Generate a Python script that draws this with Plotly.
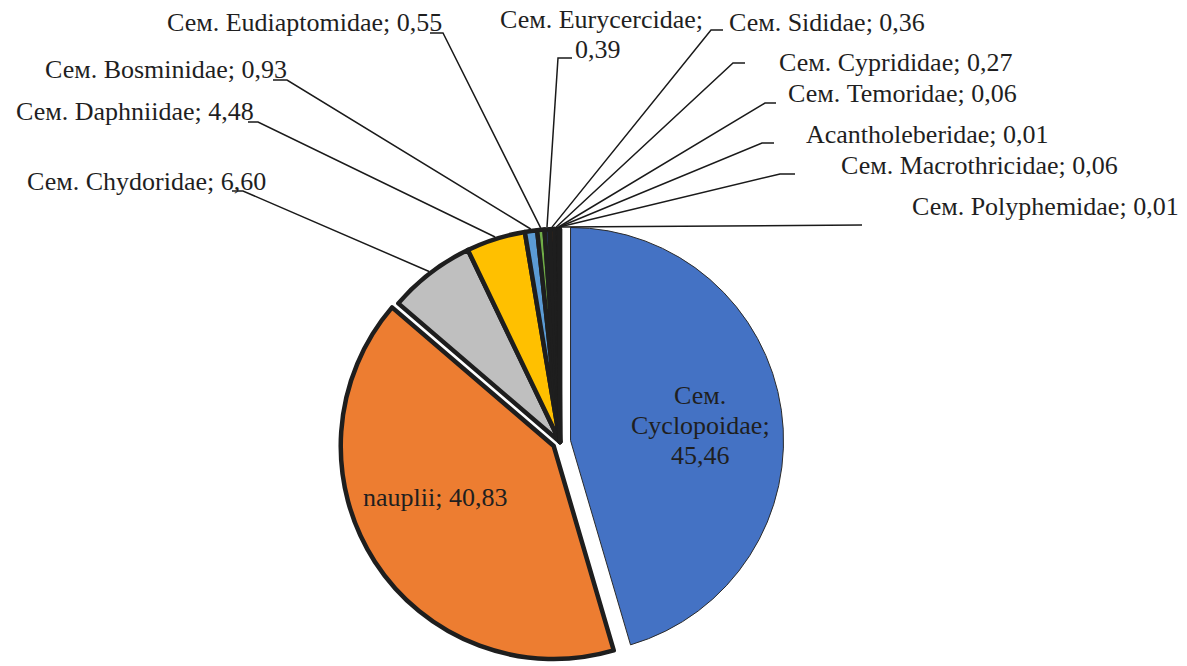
import math
import plotly.graph_objects as go

# ---------------- data ----------------
categories = ["Сем. Cyclopoidae", "nauplii", "Сем. Chydoridae", "Сем. Daphniidae",
              "Сем. Bosminidae", "Сем. Eudiaptomidae", "Сем. Eurycercidae",
              "Сем. Sididae", "Сем. Cyprididae", "Сем. Temoridae",
              "Acantholeberidae", "Сем. Macrothricidae", "Сем. Polyphemidae"]
values = [45.46, 40.83, 6.60, 4.48, 0.93, 0.55, 0.39, 0.36, 0.27, 0.06, 0.01, 0.06, 0.01]

# ---------------- styles / layout ----------------
W, H = 1187, 666
slice_colors = ["#4472C4", "#ED7D31", "#BFBFBF", "#FFC000", "#5B9BD5", "#70AD47",
                "#264478", "#9E480E", "#636363", "#997300", "#255E91", "#43682B", "#698ED0"]
border_widths = [1] + [4.5] * 12
border_colors = ["#2b2b2b"] + ["#1e1e1e"] * 12
slice_pull = [0.05, 0.035] + [0] * 11

pie_cx, pie_cy, pie_r = 560, 442, 213  # pixel geometry of the pie

# label line positions (pixel centres), one list per slice
label_pos = [
    [(700, 395), (700, 425), (700, 455)],
    [(435, 497)],
    [(146, 181)],
    [(135, 112)],
    [(166, 70)],
    [(305, 23)],
    [(602, 20), (598, 50)],
    [(827, 22)],
    [(895, 62)],
    [(902, 93)],
    [(927, 134)],
    [(979, 165)],
    [(1045, 206)],
]
# leader corners (x, y, horizontal stub dx); None = label inside slice
leader = [None, None,
          (243, 191, -11), (258, 122, -10), (287, 80, -14), (443, 33, -13),
          (558, 58, 14), (711, 30, 12), (733, 63, 12), (765, 103, 11),
          (762, 143, 12), (780, 174, 15), (862, 225, 0)]

FONT = dict(family="Liberation Serif, Times New Roman, serif", size=26, color="#1f1f1f")


def fx(x):
    return x / W


def fy(y):
    return 1 - y / H


def label_lines(i):
    num = f"{values[i]:.2f}".replace(".", ",")
    txt = f"{categories[i]}; {num}"
    n = len(label_pos[i])
    if n == 1:
        return [txt]
    if n == 2:
        return txt.rsplit(" ", 1)
    return txt.split(" ")


total = sum(values)
maxpull = max(slice_pull)
half = pie_r * (1 + maxpull)

fig = go.Figure(go.Pie(
    labels=categories,
    values=values,
    sort=False,
    direction="clockwise",
    rotation=0,
    textinfo="none",
    pull=slice_pull,
    marker=dict(colors=slice_colors, line=dict(color=border_colors, width=border_widths)),
    domain=dict(x=[fx(pie_cx - half), fx(pie_cx + half)],
                y=[max(0, fy(pie_cy + half)), min(1, fy(pie_cy - half))]),
    showlegend=False,
))

annotations = []
shapes = []
cum = 0.0
for i, v in enumerate(values):
    mid = (cum + v / 2) / total * 360.0
    cum += v
    for (x, y), t in zip(label_pos[i], label_lines(i)):
        annotations.append(dict(x=fx(x), y=fy(y), xref="paper", yref="paper", text=t,
                                showarrow=False, xanchor="center", yanchor="middle", font=FONT))
    if leader[i] is not None:
        cxp, cyp, stub = leader[i]
        rad = math.radians(mid)
        ex = pie_cx + (pie_r + 2) * math.sin(rad)
        ey = pie_cy - (pie_r + 2) * math.cos(rad)
        path = f"M {fx(ex)} {fy(ey)} L {fx(cxp)} {fy(cyp)}"
        if stub:
            path += f" L {fx(cxp + stub)} {fy(cyp)}"
        shapes.append(dict(type="path", xref="paper", yref="paper", path=path,
                           line=dict(color="#1a1a1a", width=1.5)))

fig.update_layout(
    width=W, height=H,
    margin=dict(l=0, r=0, t=0, b=0),
    paper_bgcolor="white", plot_bgcolor="white",
    annotations=annotations, shapes=shapes,
)

fig.write_html("out.html", config={"displayModeBar": False},
               post_script="document.body.style.margin='0';")
